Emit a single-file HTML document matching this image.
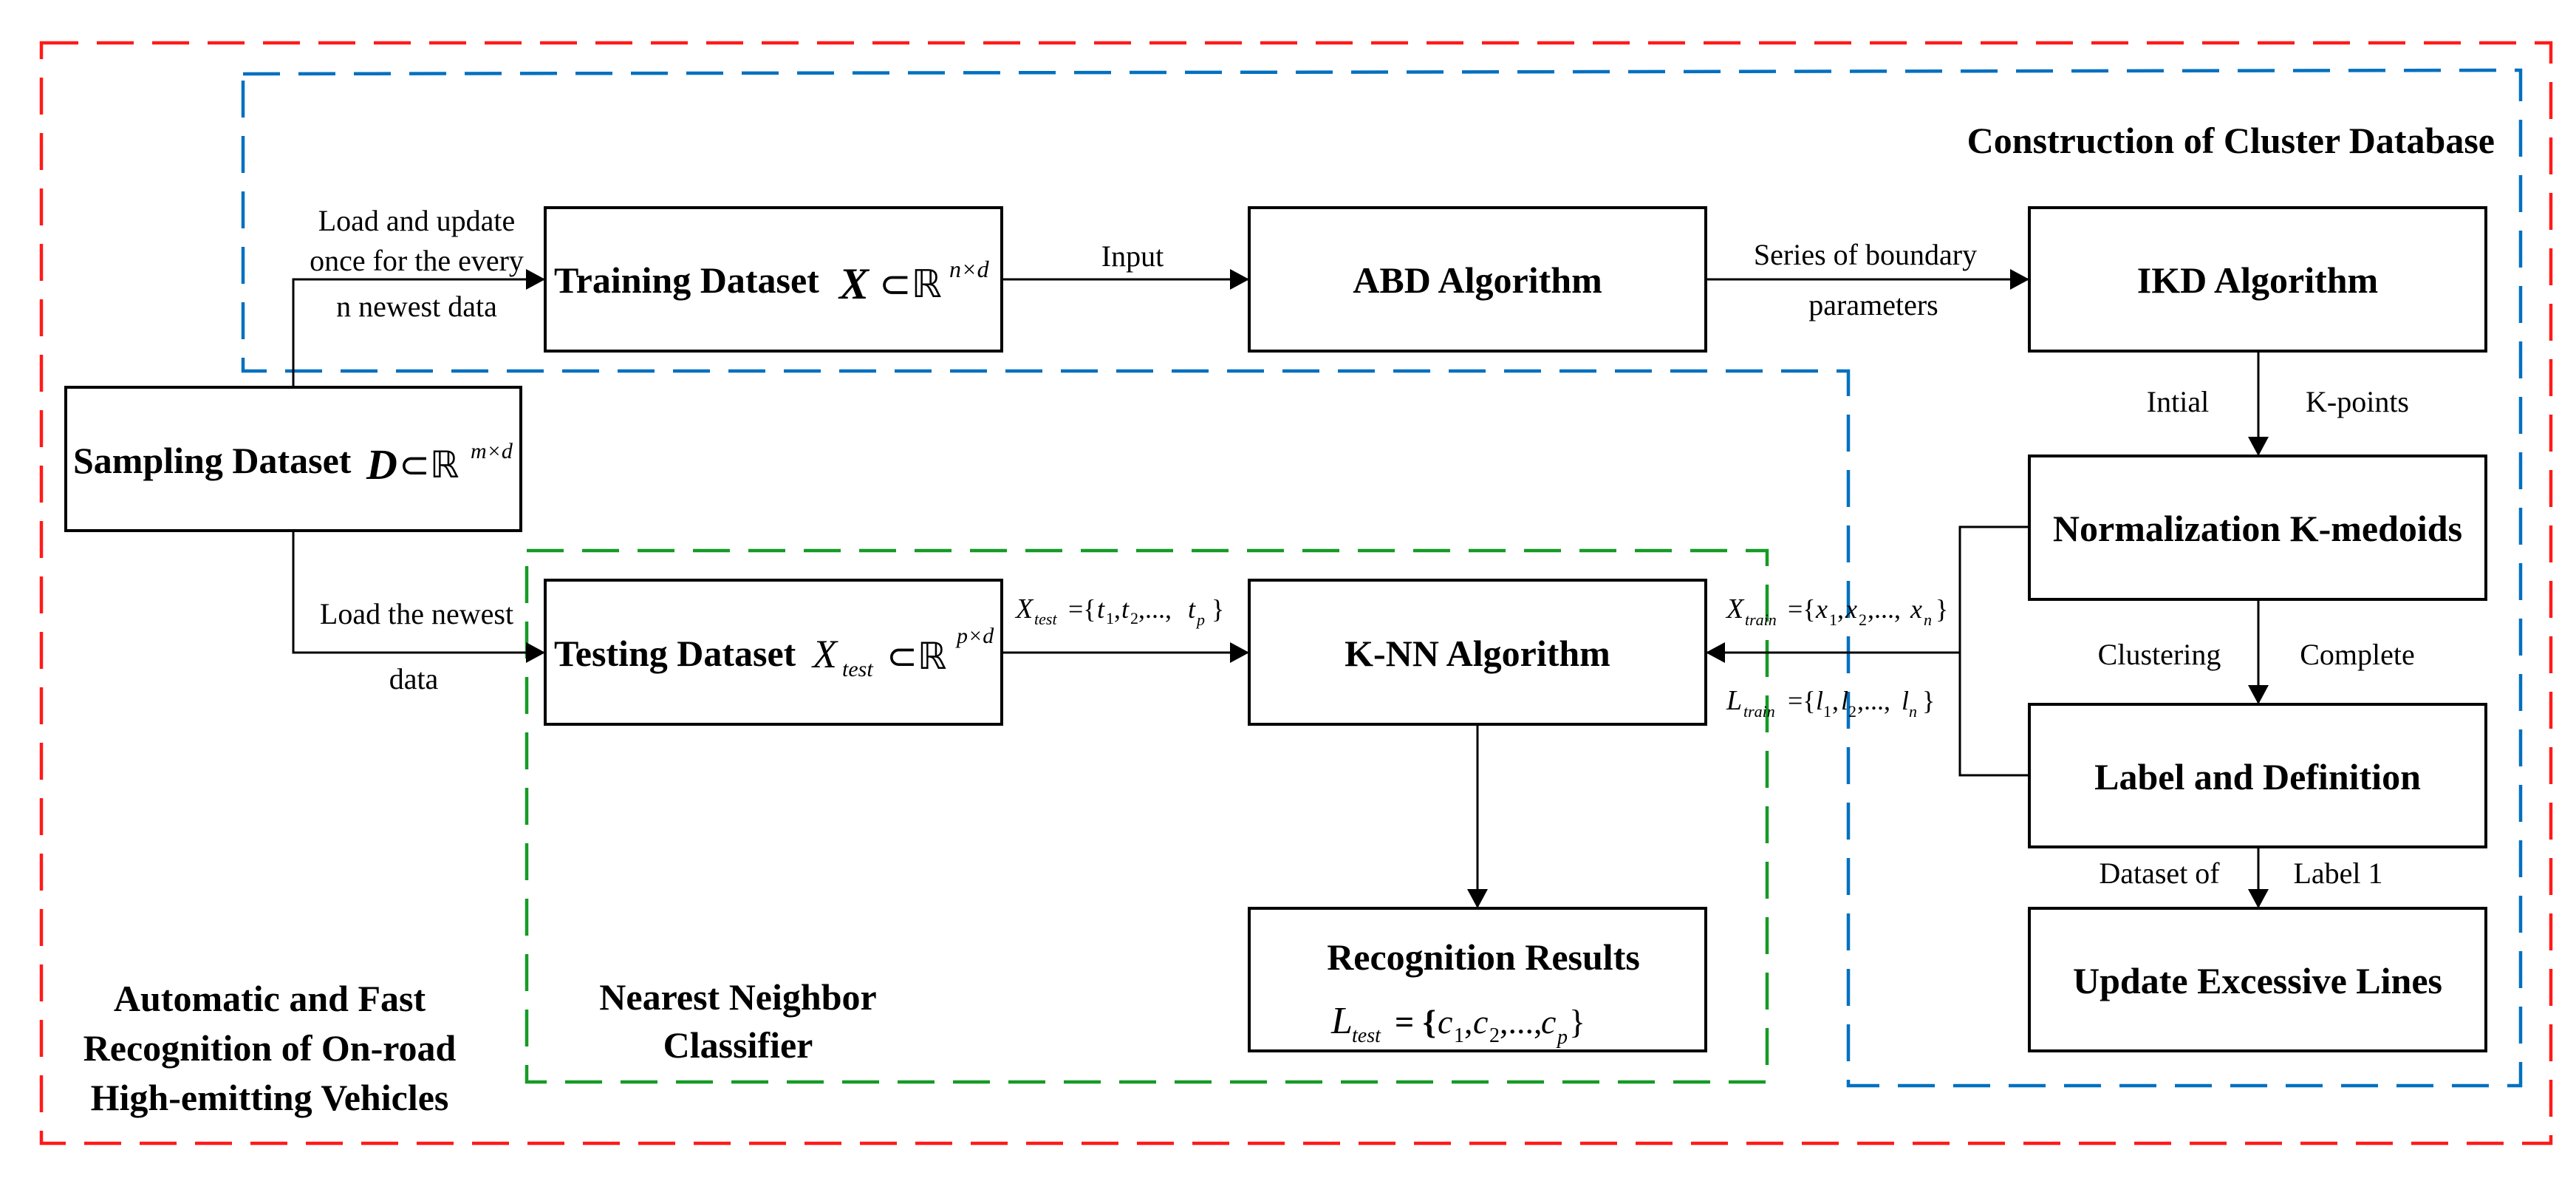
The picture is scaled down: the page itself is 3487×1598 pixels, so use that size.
<!DOCTYPE html>
<html><head><meta charset="utf-8"><style>
html,body{margin:0;padding:0;background:#fff;}
svg{display:block;}
text{font-family:"Liberation Serif","Times New Roman",serif;fill:#000;}
.b{font-weight:bold;font-size:50px;}
.s{font-size:40px;}
.m{font-style:italic;font-size:40px;}
</style></head><body>
<svg width="3487" height="1598" viewBox="0 0 3487 1598" xmlns="http://www.w3.org/2000/svg">
<defs>
<marker id="ah" markerWidth="26" markerHeight="28" refX="26" refY="14" orient="auto" markerUnits="userSpaceOnUse">
<path d="M0,0 L26,14 L0,28 Z" fill="#000"/>
</marker>
</defs>
<!-- dashed regions -->
<rect x="56" y="58" width="3397" height="1489" fill="none" stroke="#ff1a1a" stroke-width="4.5" stroke-dasharray="50 25"/>
<path d="M329,100 L3412,95 L3412,1469 L2502,1469 L2502,502 L329,502 Z" fill="none" stroke="#0070c0" stroke-width="4.5" stroke-dasharray="50 25"/>
<rect x="713" y="745" width="1679" height="719" fill="none" stroke="#159b25" stroke-width="4.5" stroke-dasharray="50 25"/>

<!-- boxes -->
<g fill="#fff" stroke="#000" stroke-width="4">
<rect x="738" y="281" width="618" height="194"/>
<rect x="1691" y="281" width="618" height="194"/>
<rect x="2747" y="281" width="618" height="194"/>
<rect x="2747" y="617" width="618" height="194"/>
<rect x="2747" y="953" width="618" height="193"/>
<rect x="2747" y="1229" width="618" height="193"/>
<rect x="89" y="524" width="616" height="194"/>
<rect x="738" y="785" width="618" height="195"/>
<rect x="1691" y="785" width="618" height="195"/>
<rect x="1691" y="1229" width="618" height="193"/>
</g>

<!-- connectors -->
<g fill="none" stroke="#000" stroke-width="3">
<path d="M397,524 L397,378 L738,378" marker-end="url(#ah)"/>
<path d="M397,718 L397,883 L738,883" marker-end="url(#ah)"/>
<path d="M1356,378 L1691,378" marker-end="url(#ah)"/>
<path d="M2309,378 L2747,378" marker-end="url(#ah)"/>
<path d="M3057,475 L3057,617" marker-end="url(#ah)"/>
<path d="M3057,811 L3057,953" marker-end="url(#ah)"/>
<path d="M3057,1146 L3057,1229" marker-end="url(#ah)"/>
<path d="M1356,883 L1691,883" marker-end="url(#ah)"/>
<path d="M2747,713 L2653,713 L2653,1049 L2747,1049"/>
<path d="M2653,883 L2309,883" marker-end="url(#ah)"/>
<path d="M2000,980 L2000,1229" marker-end="url(#ah)"/>
</g>

<!-- box texts -->
<text class="b" x="750" y="396">Training Dataset</text>
<text x="1136" y="404" font-style="italic" font-weight="bold" font-size="60">X</text>
<text x="1190" y="402" font-size="52">⊂ℝ</text>
<text x="1285" y="375" font-style="italic" font-size="32">n×d</text>

<text class="b" x="2000" y="396" text-anchor="middle">ABD Algorithm</text>
<text class="b" x="3056" y="396" text-anchor="middle">IKD Algorithm</text>
<text class="b" x="3056" y="732" text-anchor="middle">Normalization K-medoids</text>
<text class="b" x="3056" y="1068" text-anchor="middle">Label and Definition</text>
<text class="b" x="3056" y="1344" text-anchor="middle">Update Excessive Lines</text>

<text class="b" x="99" y="640">Sampling Dataset</text>
<text x="496" y="648" font-style="italic" font-weight="bold" font-size="58">D</text>
<text x="540" y="646" font-size="50">⊂ℝ</text>
<text x="637" y="620" font-style="italic" font-size="30">m×d</text>

<text class="b" x="750" y="901">Testing Dataset</text>
<text x="1100" y="903" font-style="italic" font-size="54">X</text>
<text x="1140" y="915" font-style="italic" font-size="30">test</text>
<text x="1200" y="905" font-size="50">⊂ℝ</text>
<text x="1295" y="870" font-style="italic" font-size="30">p×d</text>

<text class="b" x="2000" y="901" text-anchor="middle">K-NN Algorithm</text>

<text class="b" x="2008" y="1312" text-anchor="middle">Recognition Results</text>
<text x="1802" y="1398" font-style="italic" font-size="52">L</text>
<text x="1830" y="1410" font-style="italic" font-size="28">test</text>
<text x="1888" y="1398" font-weight="bold" font-size="46">= {</text>
<text x="1946" y="1398" font-style="italic" font-size="46">c</text>
<text x="1968" y="1410" font-size="28">1</text>
<text x="1982" y="1398" font-size="46">,</text>
<text x="1994" y="1398" font-style="italic" font-size="46">c</text>
<text x="2016" y="1410" font-size="28">2</text>
<text x="2030" y="1398" font-size="46">,...,</text>
<text x="2086" y="1398" font-style="italic" font-size="46">c</text>
<text x="2108" y="1412" font-style="italic" font-size="28">p</text>
<text x="2124" y="1398" font-size="46">}</text>

<!-- connector labels -->
<text class="s" x="564" y="312" text-anchor="middle">Load and update</text>
<text class="s" x="564" y="366" text-anchor="middle">once for the every</text>
<text class="s" x="564" y="428" text-anchor="middle">n newest data</text>
<text class="s" x="1533" y="360" text-anchor="middle">Input</text>
<text class="s" x="2525" y="358" text-anchor="middle">Series of boundary</text>
<text class="s" x="2536" y="426" text-anchor="middle">parameters</text>
<text class="s" x="2948" y="557" text-anchor="middle">Intial</text>
<text class="s" x="3191" y="557" text-anchor="middle">K-points</text>
<text class="s" x="2923" y="899" text-anchor="middle">Clustering</text>
<text class="s" x="3191" y="899" text-anchor="middle">Complete</text>
<text class="s" x="2923" y="1195" text-anchor="middle">Dataset of</text>
<text class="s" x="3165" y="1195" text-anchor="middle">Label 1</text>
<text class="s" x="564" y="844" text-anchor="middle">Load the newest</text>
<text class="s" x="560" y="932" text-anchor="middle">data</text>

<text x="1375" y="836" font-style="italic" font-size="38">X</text>
<text x="1400" y="845" font-style="italic" font-size="22">test</text>
<text x="1446" y="836" font-size="36">={</text>
<text x="1485" y="836" font-style="italic" font-size="36">t</text><text x="1497" y="844" font-size="22">1</text>
<text x="1508" y="836" font-size="36">,</text>
<text x="1518" y="836" font-style="italic" font-size="36">t</text><text x="1530" y="844" font-size="22">2</text>
<text x="1541" y="836" font-size="36">,...,</text>
<text x="1608" y="836" font-style="italic" font-size="36">t</text><text x="1620" y="846" font-style="italic" font-size="22">p</text>
<text x="1640" y="836" font-size="36">}</text>

<text x="2337" y="836" font-style="italic" font-size="38">X</text>
<text x="2362" y="846" font-style="italic" font-size="22">train</text>
<text x="2420" y="836" font-size="36">={</text>
<text x="2458" y="836" font-style="italic" font-size="36">x</text><text x="2476" y="846" font-size="22">1</text>
<text x="2487" y="836" font-size="36">,</text>
<text x="2498" y="836" font-style="italic" font-size="36">x</text><text x="2516" y="846" font-size="22">2</text>
<text x="2528" y="836" font-size="36">,...,</text>
<text x="2586" y="836" font-style="italic" font-size="36">x</text><text x="2604" y="846" font-style="italic" font-size="22">n</text>
<text x="2620" y="836" font-size="36">}</text>

<text x="2337" y="960" font-style="italic" font-size="38">L</text>
<text x="2360" y="970" font-style="italic" font-size="22">train</text>
<text x="2420" y="960" font-size="36">={</text>
<text x="2458" y="960" font-style="italic" font-size="36">l</text><text x="2468" y="970" font-size="22">1</text>
<text x="2480" y="960" font-size="36">,</text>
<text x="2492" y="960" font-style="italic" font-size="36">l</text><text x="2502" y="970" font-size="22">2</text>
<text x="2514" y="960" font-size="36">,...,</text>
<text x="2574" y="960" font-style="italic" font-size="36">l</text><text x="2584" y="970" font-style="italic" font-size="22">n</text>
<text x="2602" y="960" font-size="36">}</text>

<!-- region titles -->
<text class="b" x="3377" y="207" text-anchor="end">Construction of Cluster Database</text>
<text class="b" x="365" y="1368" text-anchor="middle">Automatic and Fast</text>
<text class="b" x="365" y="1435" text-anchor="middle">Recognition of On-road</text>
<text class="b" x="365" y="1502" text-anchor="middle">High-emitting Vehicles</text>
<text class="b" x="999" y="1366" text-anchor="middle">Nearest Neighbor</text>
<text class="b" x="999" y="1431" text-anchor="middle">Classifier</text>
</svg>
</body></html>
